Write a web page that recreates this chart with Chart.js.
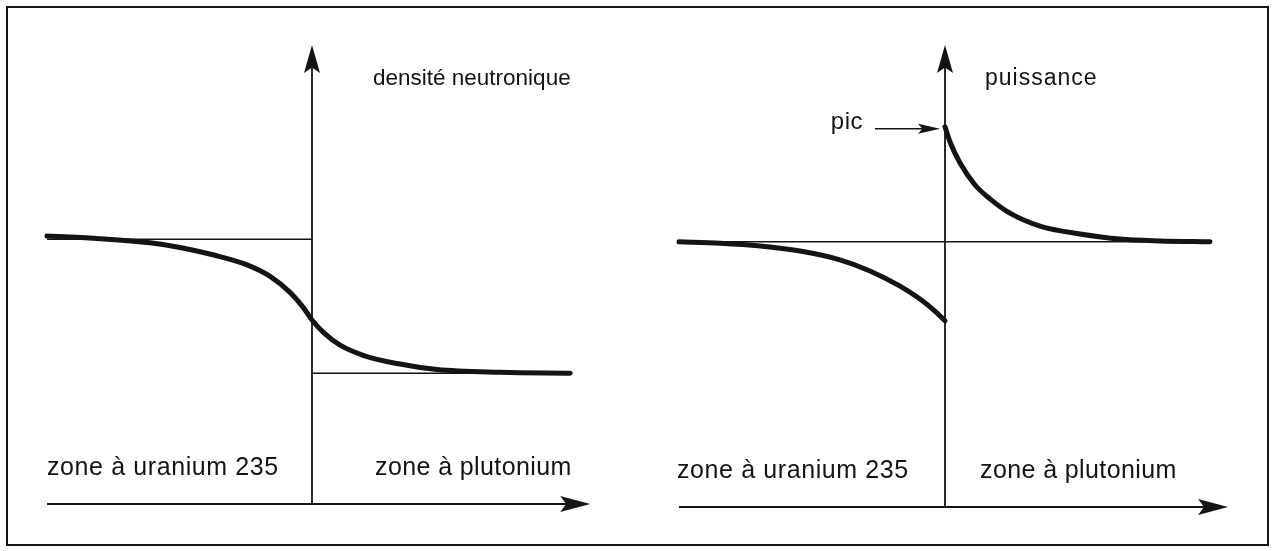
<!DOCTYPE html>
<html>
<head>
<meta charset="utf-8">
<script src="https://cdn.jsdelivr.net/npm/chart.js@4.4.0/dist/chart.umd.min.js"></script>
<style>
  html, body { margin: 0; padding: 0; background: #fff; }
  #cadre { position: absolute; left: 6px; top: 6px; width: 1259px; height: 536px; border: 2px solid #161616; }
  .panneau { position: absolute; top: 0; height: 551px; }
</style>
</head>
<body>
<div id="cadre"></div>
<div class="panneau" style="left:0;width:637px"><canvas id="gauche"></canvas></div>
<div class="panneau" style="left:637px;width:638px"><canvas id="droite"></canvas></div>
<script>
// densité neutronique (panneau de gauche)
const xDensite = [-1.0, -0.80, -0.611, -0.498, -0.374, -0.245, -0.158, -0.083, -0.034, 0, 0.045, 0.106, 0.193, 0.321, 0.472, 0.709, 0.974];
const yDensite = [5.84, 5.78, 5.69, 5.59, 5.43, 5.21, 4.96, 4.61, 4.29, 4.01, 3.73, 3.46, 3.24, 3.06, 2.93, 2.87, 2.85];
const niveauUranium = 5.77;
const niveauPlutonium = 2.85;

// puissance (panneau de droite)
const xPuissanceU = [-1.0, -0.846, -0.695, -0.545, -0.395, -0.282, -0.169, -0.094, -0.038, 0];
const yPuissanceU = [5.74, 5.71, 5.65, 5.54, 5.35, 5.11, 4.78, 4.50, 4.24, 4.03];
const xPuissancePu = [0, 0.019, 0.056, 0.113, 0.169, 0.244, 0.357, 0.508, 0.658, 0.808, 0.996];
const yPuissancePu = [8.23, 7.90, 7.45, 6.97, 6.67, 6.36, 6.08, 5.91, 5.80, 5.76, 5.74];
const niveauPuissance = 5.74;

const etiquettesGauche = ['densité neutronique', 'zone à uranium 235', 'zone à plutonium'];
const etiquettesDroite = ['puissance', 'zone à uranium 235', 'zone à plutonium', 'pic'];

const encre = '#141414';
const famille = '"Liberation Sans", Arial, sans-serif';

function points(xs, ys) {
  return xs.map((x, i) => ({ x: x, y: ys[i] }));
}

function courbe(xs, ys) {
  return {
    data: points(xs, ys),
    borderColor: encre,
    borderWidth: 5,
    pointRadius: 0,
    tension: 0.4,
    cubicInterpolationMode: 'monotone',
    borderCapStyle: 'round'
  };
}

function trait(x1, x2, y) {
  return {
    data: [{ x: x1, y: y }, { x: x2, y: y }],
    borderColor: encre,
    borderWidth: 1.5,
    pointRadius: 0
  };
}

// pointe de flèche pleine
function pointe(ctx, x, y, dx, dy, long, demi) {
  const nx = -dy, ny = dx;
  ctx.beginPath();
  ctx.moveTo(x, y);
  ctx.lineTo(x - dx * long + nx * demi, y - dy * long + ny * demi);
  ctx.lineTo(x - dx * long * 0.8, y - dy * long * 0.8);
  ctx.lineTo(x - dx * long - nx * demi, y - dy * long - ny * demi);
  ctx.closePath();
  ctx.fill();
}

const axesPlugin = {
  id: 'axes',
  afterDatasetsDraw(chart, args, opts) {
    const { ctx, scales: { x, y } } = chart;
    const ox = x.getPixelForValue(0);
    const oy = y.getPixelForValue(0);
    const haut = y.getPixelForValue(opts.yHaut);
    const debut = x.getPixelForValue(opts.xDebut);
    const fin = x.getPixelForValue(opts.xFin);
    ctx.save();
    ctx.strokeStyle = encre;
    ctx.fillStyle = encre;
    ctx.lineWidth = 1.8;
    ctx.beginPath();
    ctx.moveTo(ox, oy);
    ctx.lineTo(ox, haut + 12);
    ctx.moveTo(debut, oy);
    ctx.lineTo(fin - 12, oy);
    ctx.stroke();
    pointe(ctx, ox, haut, 0, -1, 28, 8);
    pointe(ctx, fin, oy, 1, 0, 30, 8);

    opts.textes.forEach(t => {
      ctx.font = t.taille + 'px ' + famille;
      ctx.letterSpacing = (t.espace || 0) + 'px';
      ctx.textAlign = 'left';
      ctx.textBaseline = t.ligne || 'alphabetic';
      ctx.fillText(t.texte, ox + t.dx, oy + t.dy);
    });

    if (opts.pic !== undefined) {
      const py = y.getPixelForValue(opts.pic) + 2;
      ctx.lineWidth = 1.5;
      ctx.beginPath();
      ctx.moveTo(ox - 70, py);
      ctx.lineTo(ox - 20, py);
      ctx.stroke();
      pointe(ctx, ox - 5, py, 1, 0, 22, 5);
      ctx.font = '24px ' + famille;
      ctx.letterSpacing = '0.5px';
      ctx.textAlign = 'right';
      ctx.textBaseline = 'middle';
      ctx.fillText(etiquettesDroite[3], ox - 82, py - 6);
    }
    ctx.restore();
  }
};

function options(largeur, oxPx, uniteX, oyPx, uniteY, axes) {
  return {
    responsive: true,
    maintainAspectRatio: false,
    animation: false,
    layout: { padding: 0 },
    plugins: { legend: { display: false }, tooltip: { enabled: false }, axes: axes },
    scales: {
      x: { type: 'linear', display: false, min: -oxPx / uniteX, max: (largeur - oxPx) / uniteX },
      y: { type: 'linear', display: false, min: -(551 - oyPx) / uniteY, max: oyPx / uniteY }
    }
  };
}

new Chart(document.getElementById('gauche'), {
  type: 'line',
  data: {
    datasets: [
      trait(-1.0, 0, niveauUranium),
      trait(0, xDensite[xDensite.length - 1], niveauPlutonium),
      courbe(xDensite, yDensite)
    ]
  },
  options: options(637, 312, 265, 504, 45.9, {
    yHaut: 10, xDebut: -1.0, xFin: 1.05,
    textes: [
      { texte: etiquettesGauche[0], dx: 61, dy: -425, taille: 22.5, espace: 0, ligne: 'middle' },
      { texte: etiquettesGauche[1], dx: -265, dy: -29, taille: 25, espace: 0.6 },
      { texte: etiquettesGauche[2], dx: 63, dy: -29, taille: 25, espace: 0.4 }
    ]
  }),
  plugins: [axesPlugin]
});

new Chart(document.getElementById('droite'), {
  type: 'line',
  data: {
    datasets: [
      trait(-1.0, 1.0, niveauPuissance),
      courbe(xPuissanceU, yPuissanceU),
      courbe(xPuissancePu, yPuissancePu)
    ]
  },
  options: options(638, 308, 266, 507, 46.2, {
    yHaut: 10, xDebut: -1.0, xFin: 1.064, pic: yPuissancePu[0],
    textes: [
      { texte: etiquettesDroite[0], dx: 40, dy: -428, taille: 23, espace: 1, ligne: 'middle' },
      { texte: etiquettesDroite[1], dx: -268, dy: -29, taille: 25, espace: 0.6 },
      { texte: etiquettesDroite[2], dx: 35, dy: -29, taille: 25, espace: 0.4 }
    ]
  }),
  plugins: [axesPlugin]
});
</script>
</body>
</html>
